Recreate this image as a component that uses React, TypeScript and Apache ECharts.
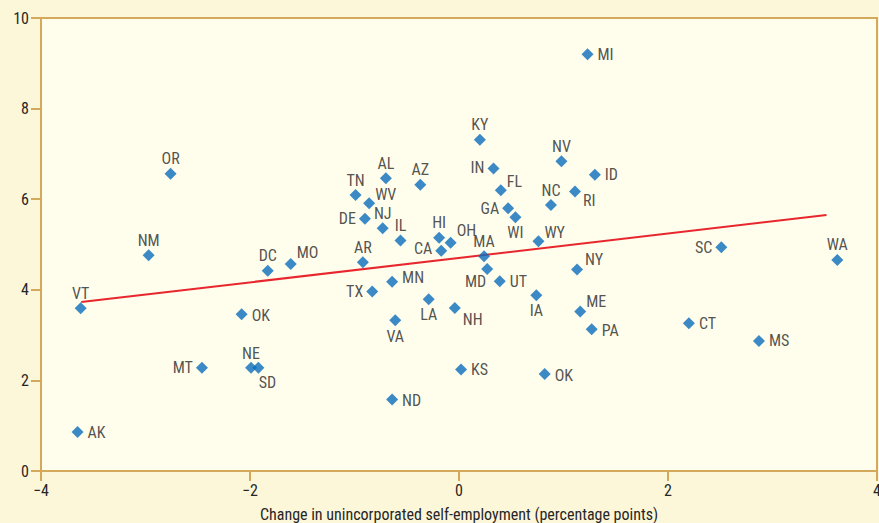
import React, { useEffect, useRef } from "react";
import * as echarts from "echarts";

// ---- data ----
const states = ["MI","KY","NV","IN","ID","OR","AL","AZ","FL","RI","TN","WV","NC","GA","WI","DE","NJ","IL","HI","OH","CA","WY","MA","NM","SC","WA","AR","DC","MO","MD","NY","MN","UT","TX","IA","LA","VT","ME","NH","OK","VA","CT","PA","MS","MT","NE","SD","KS","OK","ND","AK"];
const changeSelfEmployment = [1.23,0.20,0.98,0.33,1.30,-2.76,-0.70,-0.37,0.40,1.11,-0.99,-0.86,0.88,0.47,0.54,-0.90,-0.73,-0.56,-0.19,-0.08,-0.17,0.76,0.24,-2.97,2.51,3.62,-0.92,-1.83,-1.61,0.27,1.13,-0.64,0.39,-0.83,0.74,-0.29,-3.62,1.16,-0.04,-2.08,-0.61,2.20,1.27,2.87,-2.46,-1.99,-1.92,0.02,0.82,-0.64,-3.65];
const yValues = [9.20,7.31,6.84,6.68,6.54,6.56,6.46,6.32,6.20,6.17,6.09,5.91,5.87,5.80,5.60,5.57,5.36,5.09,5.15,5.04,4.86,5.07,4.74,4.76,4.94,4.66,4.61,4.42,4.57,4.46,4.45,4.18,4.19,3.96,3.88,3.79,3.59,3.52,3.60,3.46,3.33,3.26,3.13,2.87,2.28,2.28,2.28,2.24,2.14,1.58,0.86];
const trendX = [-3.615, 3.517];
const trendY = [3.73, 5.65];
const xTicks = { min: -4, max: 4, interval: 2 };
const yTicks = { min: 0, max: 10, interval: 2 };
const xTitle = "Change in unincorporated self-employment (percentage points)";

// ---- label placement (style) per point index: [position, dx, dy] ----
const labelPlace: [string, number, number][] = [
  ["r",0,0],["t",0,0],["t",0,0],["l",0,-1],["r",0,0],["t",0,0],["t",0,0],["t",0,0],["tr",0,-9],["br",0,9],
  ["t",0,0],["tr",0,-9],["t",0,0],["l",0,0],["b",0,0],["l",0,0],["t",0,0],["t",0,0],["t",0,0],["tr",0,-12],
  ["l",0,-2],["tr",0,-9],["t",0,0],["t",0,0],["l",0,0],["t",0,0],["t",0,0],["t",0,0],["tr",0,-11],["bl",5,13],
  ["tr",2,-10],["r",0,-4],["r",0,0],["l",0,0],["b",0,0],["b",0,0],["t",0,0],["tr",0,-10],["br",0,12],["r",0,1],
  ["b",0,1],["r",0,0],["r",0,1],["r",0,0],["l",0,0],["t",0,1],["b",9,0],["r",0,0],["r",0,1],["r",0,1],["r",0,0],
];

const FONT = "'Roboto Condensed', 'Liberation Sans Narrow', 'DejaVu Sans Condensed', sans-serif";
const TXT = "#262626";
const TAN = "#D5A95C";

function labelFor(p: [string, number, number]) {
  const [pos, dx, dy] = p;
  switch (pos) {
    case "r": return { position: "right", distance: 4, offset: [dx, dy] };
    case "l": return { position: "left", distance: 3, offset: [dx, dy] };
    case "t": return { position: "top", distance: 1, offset: [dx, dy] };
    case "b": return { position: "bottom", distance: 1, offset: [dx, dy] };
    case "tr": return { position: "right", distance: 0, offset: [dx, dy] };
    case "br": return { position: "right", distance: 2, offset: [dx, dy] };
    case "bl": return { position: "left", distance: 0, offset: [dx, dy] };
  }
  return { position: "right" };
}

export default function App() {
  const ref = useRef<HTMLDivElement>(null);
  useEffect(() => {
    if (!ref.current) return;
    const chart = echarts.init(ref.current, null, { renderer: "svg" });
    const points = states.map((s, i) => ({
      name: s,
      value: [changeSelfEmployment[i], yValues[i]],
      label: labelFor(labelPlace[i]),
    }));
    const fmt = (v: number) => String(v).replace("-", "\u2212");
    chart.setOption({
      animation: false,
      backgroundColor: "#FDF7DA",
      textStyle: { fontFamily: FONT },
      grid: {
        left: 41, right: 2, top: 18, bottom: 52,
        outerBoundsMode: "none",
        containLabel: false,
        show: true, backgroundColor: "#FFFDEC", borderColor: TAN, borderWidth: 2,
      },
      xAxis: {
        type: "value", ...xTicks,
        axisLine: { show: true, onZero: false, lineStyle: { color: TAN, width: 2 } },
        axisTick: { show: true, length: 10, lineStyle: { color: TAN, width: 2 } },
        splitLine: { show: false },
        axisLabel: { color: TXT, fontSize: 16, fontFamily: FONT, margin: 11, formatter: fmt },
        name: xTitle, nameLocation: "middle", nameGap: 35,
        nameTextStyle: { color: TXT, fontSize: 16, fontFamily: FONT },
      },
      yAxis: {
        type: "value", ...yTicks,
        axisLine: { show: true, onZero: false, lineStyle: { color: TAN, width: 2 } },
        axisTick: { show: true, length: 10, lineStyle: { color: TAN, width: 2 } },
        splitLine: { show: false },
        axisLabel: { color: TXT, fontSize: 16, fontFamily: FONT, margin: 12, formatter: fmt },
      },
      series: [
        {
          type: "line",
          data: trendX.map((x, i) => [x, trendY[i]]),
          symbol: "none",
          lineStyle: { color: "#E8262D", width: 2 },
          z: 2,
        },
        {
          type: "scatter",
          symbol: "diamond",
          symbolSize: 12,
          itemStyle: { color: "#0A6DBD" },
          label: {
            show: true, formatter: "{b}", color: TXT, fontSize: 16, fontFamily: FONT, lineHeight: 16,
          },
          data: points,
          z: 3,
        },
      ],
    });
    return () => chart.dispose();
  }, []);
  return (
    <div ref={ref} style={{ position: "fixed", left: 0, top: 0, width: 879, height: 523 }} />
  );
}
